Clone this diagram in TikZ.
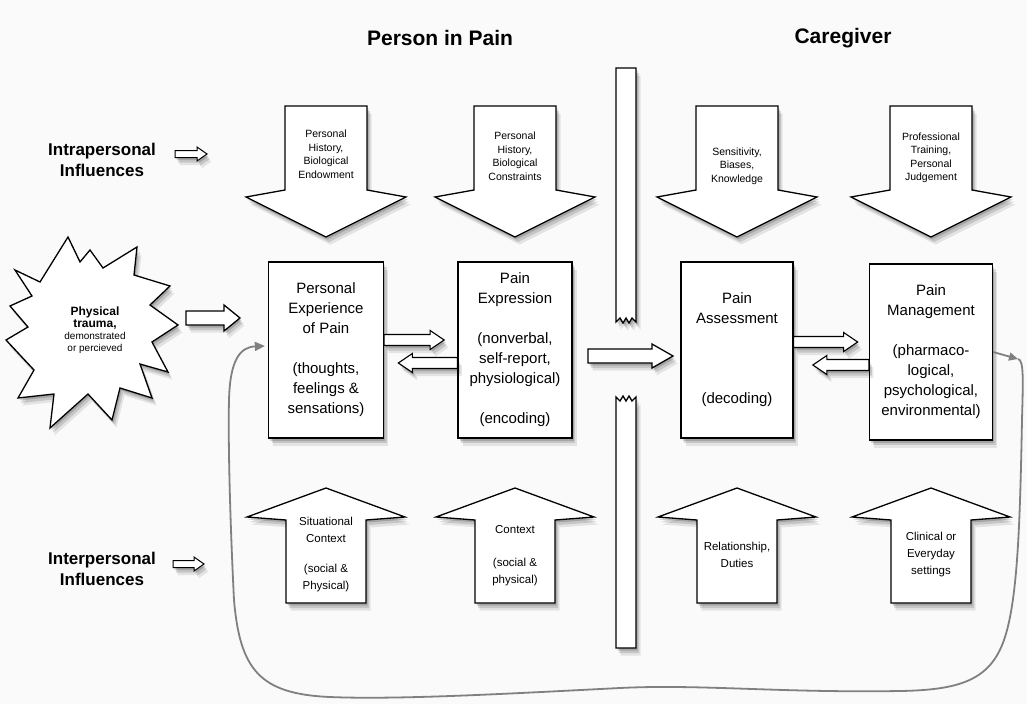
\documentclass[tikz,border=0pt]{standalone}
\usepackage{fontspec}
\setmainfont{Liberation Sans}
\usetikzlibrary{arrows.meta,calc}
\definecolor{fbgray}{RGB}{128,128,128}
\definecolor{bgc}{RGB}{250,250,250}
\begin{document}
\begin{tikzpicture}[x=1pt,y=-1pt,
  shad/.style={preaction={fill=black,opacity=.16,transform canvas={xshift=1.5pt,yshift=-2.5pt}},
               preaction={fill=black,opacity=.13,transform canvas={xshift=3pt,yshift=-5pt}},
               preaction={fill=black,opacity=.09,transform canvas={xshift=4.5pt,yshift=-7.5pt}}},
  blk/.style={shad,draw=black,fill=white,line width=1.3pt,line join=miter},
  box/.style={blk,minimum height=176pt,align=center,inner sep=0pt,font=\fontsize{15}{20}\selectfont},
  ttl/.style={font=\fontsize{21}{25}\selectfont\bfseries},
  lbl/.style={align=center,font=\fontsize{17}{21}\selectfont\bfseries},
  itxt/.style={align=center,inner sep=0pt,font=\fontsize{10.5}{13.5}\selectfont},
  etxt/.style={align=center,inner sep=0pt,font=\fontsize{11.5}{17}\selectfont},
  blkarrow/.style n args={3}{to path={let \p1=(\tikztostart), \p2=(\tikztotarget), \n1={sign(\x2-\x1)} in
     (\x1,\y1+#1) -- (\x2-\n1*#3,\y1+#1) -- (\x2-\n1*#3,\y1+#2) -- (\x2,\y1) -- (\x2-\n1*#3,\y1-#2) -- (\x2-\n1*#3,\y1-#1) -- (\x1,\y1-#1) -- cycle}},
  fb/.style={draw=fbgray,line width=1.8pt},
  downblk/.pic={\path[blk] (-41,0) -- (41,0) -- (41,84) -- (80,91) -- (0,131) -- (-80,91) -- (-41,84) -- cycle;},
  upblk/.pic={\path[blk] (0,0) -- (79,29) -- (40,32) -- (40,115) -- (-40,115) -- (-40,32) -- (-79,29) -- cycle;}
]
% background / bounding box
\fill[bgc] (0,0) rectangle (1027,704);
\useasboundingbox (0,0) rectangle (1027,704);

% titles
\node[ttl] (t1) at (440,38) {Person in Pain};
\node[ttl] (t2) at (843,38) {Caregiver};

% side labels
\node[lbl] (intra) at (102,160) {Intrapersonal\\Influences};
\node[lbl] (inter) at (102,569) {Interpersonal\\Influences};
\coordinate (ia0) at (175,154);
\coordinate (ia9) at (207,154);
\coordinate (ea0) at (173,564);
\coordinate (ea9) at (204,564);
\path[blk,line width=1pt,blkarrow={3.5pt}{7pt}{10pt}] (ia0) to (ia9);
\path[blk,line width=1pt,blkarrow={3.5pt}{7pt}{10pt}] (ea0) to (ea9);

% divider
\path[blk] (616,68) -- (636,68) -- (636,322) -- (632,318) -- (629,323) -- (626,318) -- (623,323) -- (620,318) -- (616,322) -- cycle;
\path[blk] (616,648) -- (636,648) -- (636,397) -- (632,401) -- (629,396) -- (626,401) -- (623,396) -- (620,401) -- (616,397) -- cycle;

% star
\path[blk] (15,270) -- (40,282) -- (68,237) -- (80,262) -- (90,250) -- (103,268) -- (137,247) -- (134,275) -- (170,286) -- (150,305) -- (178,325) -- (152,342) -- (168,372) -- (140,364) -- (152,398) -- (120,388) -- (112,420) -- (88,394) -- (50,428) -- (54,394) -- (18,398) -- (34,370) -- (6,340) -- (28,327) -- (10,306) -- (32,296) -- cycle;
\node[align=center,inner sep=0pt] (trauma) at (95,330) {\fontsize{12}{17}\selectfont\bfseries Physical\\\fontsize{12}{17}\selectfont\bfseries trauma,\\\fontsize{10}{14}\selectfont demonstrated\\\fontsize{10}{14}\selectfont or percieved};

% boxes
\node[box,minimum width=115pt] (A) at (326,350) {Personal\\Experience\\of Pain\\[20pt](thoughts,\\feelings \&\\sensations)};
\node[box,minimum width=114pt] (B) at (515,350) {Pain\\Expression\\[20pt](nonverbal,\\self-report,\\physiological)\\[20pt](encoding)};
\node[box,minimum width=112pt] (C) at (737,350) {Pain\\Assessment\\[60pt](decoding)};
\node[box,minimum width=123pt] (D) at (931,352) {Pain\\Management\\[20pt](pharmaco-\\logical,\\psychological,\\environmental)};

% top influence arrows
\pic at (326,106) {downblk};
\pic at (515,106) {downblk};
\pic at (737,106) {downblk};
\pic at (931,106) {downblk};
\node[itxt] (i1) at (326,154) {Personal\\History,\\Biological\\Endowment};
\node[itxt] (i2) at (515,156) {Personal\\History,\\Biological\\Constraints};
\node[itxt] (i3) at (737,166) {Sensitivity,\\Biases,\\Knowledge};
\node[itxt] (i4) at (931,158) {Professional\\Training,\\Personal\\Judgement};

% bottom influence arrows
\pic at (326,488) {upblk};
\pic at (515,488) {upblk};
\pic at (737,488) {upblk};
\pic at (931,488) {upblk};
\node[etxt] (e1) at (326,555) {Situational\\Context\\[13pt](social \&\\Physical)};
\node[etxt] (e2) at (515,556) {Context\\[16pt](social \&\\physical)};
\node[etxt] (e3) at (737,555) {Relationship,\\Duties};
\node[etxt] (e4) at (931,555) {Clinical or\\Everyday\\settings};

% connectors
\coordinate (s0) at (186,318);
\coordinate (s9) at (240,318);
\path[blk,blkarrow={7pt}{13pt}{16pt}] (s0) to (s9);
\path[blk,line width=1.1pt,blkarrow={5.5pt}{9.5pt}{14pt}] ([yshift=10pt]A.east) to ++(60,0);
\path[blk,line width=1.1pt,blkarrow={5.5pt}{9.5pt}{14pt}] ([yshift=-13pt]B.west) to ++(-59,0);
\coordinate (m0) at (588,356);
\coordinate (m9) at (673,356);
\path[blk,blkarrow={7pt}{12pt}{21pt}] (m0) to (m9);
\path[blk,line width=1.1pt,blkarrow={5.5pt}{9.5pt}{14pt}] ([yshift=8pt]C.east) to ++(64,0);
\path[blk,line width=1.1pt,blkarrow={5.5pt}{9.5pt}{14pt}] ([yshift=-13pt]D.west) to ++(-56,0);

% feedback loop
\coordinate (fbR) at (1018,359);
\draw[fb,-{Triangle[length=9pt,width=8pt]}] (D.east) -- (fbR);
\draw[fb,-{Triangle[length=10pt,width=9pt]}] (fbR) .. controls (1024,360) and (1023,380) .. (1022,420) .. controls (1020,520) and (1018,600) .. (1004,640) .. controls (990,680) and (960,690) .. (900,691) .. controls (780,693) and (700,684) .. (620,688) .. controls (520,693) and (400,700) .. (330,697) .. controls (260,694) and (240,670) .. (234,600) .. controls (230,520) and (228,440) .. (229,400) .. controls (230,360) and (240,347) .. ([xshift=-3pt,yshift=4pt]A.west);
\end{tikzpicture}
\end{document}
